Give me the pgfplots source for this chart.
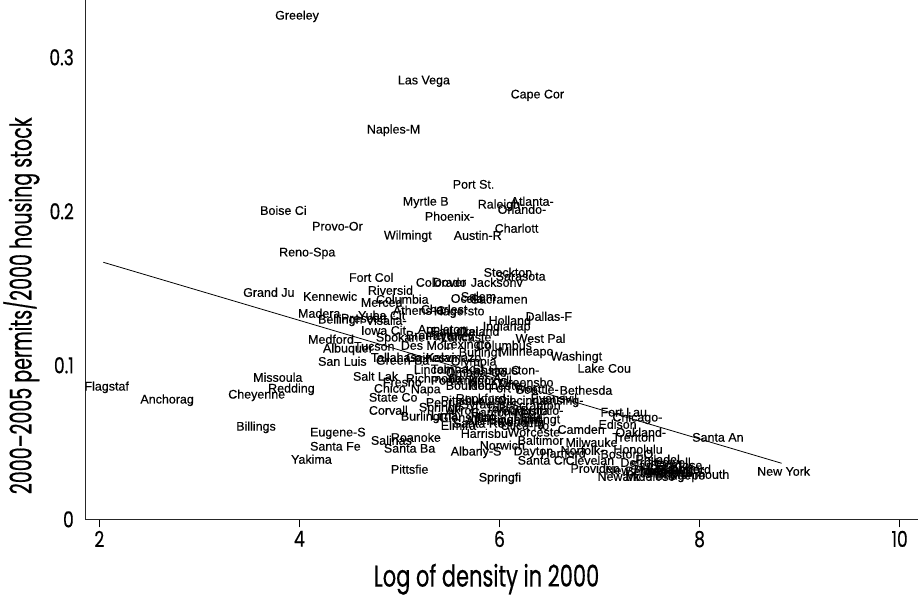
\documentclass[border=0pt]{standalone}
\usepackage{pgfplots}
\pgfplotsset{compat=1.18}
\usepackage{pgfplotstable}
\usepackage{fontspec}
\setmainfont{Liberation Sans}
\newfontfamily\futx[FakeStretch=0.70, FakeBold=0.5]{Poppins}
\newfontfamily\futy[FakeStretch=0.635, FakeBold=0.5]{Poppins}
\newfontfamily\futt[FakeStretch=0.78, FakeBold=0.4]{Poppins}
\newfontfamily\lab[FakeBold=0.35]{Liberation Sans}

\pgfplotstableread[col sep=comma]{
x,y,name
3.756,0.3266,Greeley
4.983,0.2844,Las Vega
6.110,0.2753,Cape Cor
4.673,0.2526,Naples-M
5.531,0.2175,Port St.
5.032,0.2058,Myrtle B
5.781,0.2039,Raleigh-
6.110,0.2065,Atlanta-
5.980,0.2013,Orlando-
5.252,0.1968,Phoenix-
5.950,0.1890,Charlott
5.541,0.1844,Austin-R
4.843,0.1838,Wilmingt
3.606,0.2006,Boise Ci
4.125,0.1903,Provo-Or
3.796,0.1727,Reno-Spa
4.494,0.1571,Fort Col
3.436,0.1474,Grand Ju
4.035,0.1448,Kennewic
4.683,0.1487,Riversid
4.763,0.1429,Columbia
4.613,0.1409,Merced
5.162,0.1539,Colorado
5.332,0.1539,Dover
5.711,0.1539,Jacksonv
5.840,0.1604,Stockton
5.960,0.1578,Sarasota
5.511,0.1435,Ocala
5.611,0.1448,Salem
5.711,0.1429,Sacramen
4.933,0.1357,Athens-C
5.212,0.1364,Charlest
5.342,0.1344,Hagersto
3.985,0.1338,Madera
4.185,0.1292,Bellingh
4.414,0.1305,Prescott
4.584,0.1325,Yuba Cit
4.663,0.1292,Visalia-
4.613,0.1227,Iowa Cit
5.182,0.1227,Appleton
5.491,0.1221,Lakeland
5.262,0.1182,Fayettev
5.411,0.1182,Lancaste
5.062,0.1195,Bremerto
5.312,0.1221,Eau Clai
4.763,0.1175,Spokane
4.085,0.1169,Medford
4.234,0.1104,Albuquer
4.544,0.1123,Tucson
4.185,0.1026,San Luis
5.012,0.1130,Des Moin
5.441,0.1130,Lexingto
5.761,0.1130,Columbus
4.713,0.1052,Tallahas
4.763,0.1032,Green Ba
5.062,0.1052,Gainesvi
5.262,0.1052,Kalamazo
5.591,0.1078,Burlingt
5.511,0.1019,Olympia
5.990,0.1084,Minneapo
6.509,0.1052,Washingt
6.778,0.0981,Lake Cou
5.890,0.1292,Holland
6.259,0.1318,Dallas-F
5.830,0.1247,Indianap
6.160,0.1175,West Pal
4.534,0.0929,Salt Lak
5.142,0.0974,Lincoln
5.062,0.0916,Richmond
4.833,0.0890,Fresno
4.743,0.0851,Chico
5.112,0.0838,Napa
4.693,0.0792,State Co
4.693,0.0708,Corvall
5.711,0.0773,Louisvil
5.980,0.0773,Cincinna
5.691,0.0870,Rocheste
6.160,0.0844,Seattle-
6.599,0.0838,Bethesda
6.359,0.0766,Lansing-
7.008,0.0695,Fort Lau
7.127,0.0656,Chicago-
6.988,0.0617,Edison
7.157,0.0565,Oakland-
6.579,0.0584,Camden
7.127,0.0532,Trenton
6.658,0.0500,Milwauke
7.137,0.0455,Honolulu
6.659,0.0383,Clevelan
7.357,0.0390,Philadel
6.708,0.0331,Providen
6.978,0.0279,Newark
7.476,0.0318,Los Ange
7.506,0.0305,Nassau-S
7.925,0.0532,Santa An
8.574,0.0312,New York
5.611,0.0558,Harrisbu
6.080,0.0565,Worceste
5.511,0.0435,Albany-S
5.801,0.0481,Norwich
6.140,0.0435,Dayton
6.180,0.0383,Santa Cr
5.791,0.0266,Springfi
4.913,0.0325,Pittsfie
4.913,0.0532,Roanoke
4.843,0.0461,Santa Ba
4.713,0.0513,Salinas
4.105,0.0558,Eugene-S
4.105,0.0474,Santa Fe
3.915,0.0390,Yakima
3.367,0.0597,Billings
3.536,0.0922,Missoula
3.686,0.0844,Redding
3.287,0.0805,Cheyenne
2.409,0.0773,Anchorag
1.850,0.0857,Flagstaf
5.012,0.0662,Burlingt
5.392,0.0662,Glens Fa
5.531,0.0623,Santa Ro
6.140,0.0643,Huntingt
5.192,0.0721,Springfi
6.209,0.0708,Buffalo-
5.312,0.0968,Tampa-St
5.461,0.0955,Omaha-Co
5.661,0.0968,Kansas C
5.890,0.0968,Houston-
5.312,0.0903,Portland
5.491,0.0916,Denver-A
5.691,0.0903,Knoxvill
5.990,0.0890,Greensbo
5.461,0.0870,Boulder
5.890,0.0851,Fort Wor
5.411,0.0773,Pittsbur
5.611,0.0740,Syracuse
5.860,0.0721,Toledo
5.461,0.0708,Akron
5.711,0.0695,Canton-M
5.960,0.0695,Youngsto
5.661,0.0643,Allentow
5.890,0.0643,Binghamt
5.980,0.0623,Reading
6.180,0.0513,Baltimor
6.409,0.0429,Hartford
6.609,0.0448,Norfolk-
7.008,0.0416,Boston-Q
7.207,0.0370,Detroit-
7.257,0.0305,Bergen-P
7.406,0.0292,Jersey C
7.307,0.0351,San Fran
7.506,0.0351,San Jose
7.057,0.0318,New Have
7.556,0.0279,Bridgepo
7.606,0.0325,Stamford
5.262,0.0760,Peoria
5.561,0.0786,Rockford
6.110,0.0740,Scranton
6.309,0.0786,Evansvil
5.312,0.0675,Lima
6.209,0.0662,Erie
5.711,0.0669,Flint
6.010,0.0610,Utica-Ro
5.411,0.0610,Elmira
7.257,0.0279,Middlese
7.706,0.0292,Monmouth
7.406,0.0318,Miami-Mi
7.556,0.0370,Lowell
}\cities

\begin{document}
\begin{tikzpicture}
\begin{axis}[
  width=834pt, height=520pt, scale only axis,
  xmin=1.86, xmax=10.18, ymin=0, ymax=0.337,
  axis x line=bottom, axis y line=left,
  axis line style={-, line width=0.7pt, black!85},
  xtick={2,4,6,8,10}, xticklabels={2,4,6,8,10},
  ytick={0,0.1,0.2,0.3}, yticklabels={0,0.1,0.2,0.3},
  tick align=outside, major tick length=8pt,
  xtick style={black, line width=0.7pt},
  ytick style={draw=none},
  ticklabel style={font=\futt\fontsize{22}{22}\selectfont, text=black},
  xlabel={Log of density in 2000},
  ylabel={2000–2005 permits/2000 housing stock},
  xlabel style={font=\futx\fontsize{30}{30}\selectfont, text=black,
    at={(axis description cs:0.482,-0.1154)}, anchor=center},
  ylabel style={font=\futy\fontsize{30}{30}\selectfont, text=black,
    at={(axis description cs:-0.0767,0.4115)}, anchor=center},
  clip=false,
]
\coordinate (O) at (rel axis cs:0,0);
\coordinate (T) at (rel axis cs:1,1);
\addplot[only marks, mark=none, nodes near coords, point meta=explicit symbolic,
  nodes near coords align={anchor=west},
  every node near coord/.append style={anchor=west, inner sep=0pt, text=black,
    font=\lab\fontsize{12.5}{13}\selectfont}]
  table[x=x, y=y, meta=name] {\cities};
\addplot[black, line width=0.8pt] coordinates {(2.04,0.1669) (8.82,0.0364)};
\end{axis}
\path (O) ++(-84pt,-78pt) rectangle (T);
\end{tikzpicture}
\end{document}
